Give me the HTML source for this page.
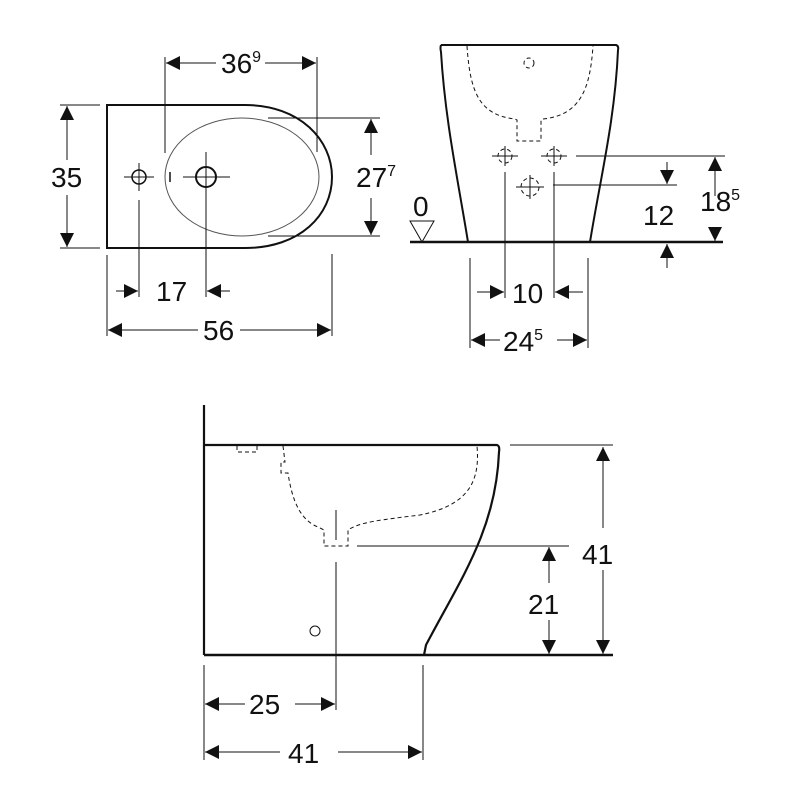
<!DOCTYPE html>
<html><head><meta charset="utf-8"><style>html,body{margin:0;padding:0;background:#fff}svg{display:block}text{font-family:"Liberation Sans",Arial,sans-serif;fill:#111}</style></head>
<body>
<svg width="800" height="800" viewBox="0 0 800 800" xmlns="http://www.w3.org/2000/svg">
<defs>
<marker id="a" viewBox="0 0 10 10" refX="10" refY="5" markerWidth="16" markerHeight="14" markerUnits="userSpaceOnUse" orient="auto"><path d="M0,0L10,5L0,10z" fill="#111"/></marker>
</defs>
<g stroke="#111" fill="none">
<path d="M107,105 L245,105 C300,105 332,140 332,177 C332,215 300,248 245,248 L107,248 Z" stroke-width="2"/>
<ellipse cx="242" cy="177" rx="77" ry="59" stroke-width="1" stroke="#555"/>
<path d="M170,172 v10" stroke-width="1.5"/>
<circle cx="139" cy="177" r="7" stroke-width="1.5"/>
<circle cx="206" cy="177" r="10" stroke-width="2"/>
<g stroke-width="1">
<path d="M124,177h30M139,163v28M183,177h47M206,152v50"/>
<path d="M165,57v96M317,57v95"/>
<path d="M216,63H166" marker-end="url(#a)"/><path d="M265,63H316" marker-end="url(#a)"/>
<path d="M60,105h40M60,248h40"/>
<path d="M67,160V106" marker-end="url(#a)"/><path d="M67,195V247" marker-end="url(#a)"/>
<path d="M268,118h112M268,236h112"/>
<path d="M371,155V119" marker-end="url(#a)"/><path d="M371,198V235" marker-end="url(#a)"/>
<path d="M139,200v97M206,200v97"/>
<path d="M116,291H138" marker-end="url(#a)"/><path d="M230,291H207" marker-end="url(#a)"/>
<path d="M107,255v81M332,254v82"/>
<path d="M198,330H108" marker-end="url(#a)"/><path d="M240,330H331" marker-end="url(#a)"/>
</g>
<path d="M441,45 L616,45 Q619,46 618,50 C615,120 600,180 590,242 M441,45 Q440,48 441,52 C445,120 458,180 468,242" stroke-width="2"/>
<path d="M410,242H723" stroke-width="2.5"/>
<g stroke-width="1" stroke-dasharray="4,3">
<path d="M467,46 C470,90 478,115 515,119 L517,120 V141 H541 V120 L543,119 C580,115 590,90 593,46"/>
<circle cx="529" cy="63" r="5"/>
<circle cx="505" cy="156" r="7"/><circle cx="554" cy="156" r="7"/><circle cx="530" cy="187" r="9"/>
</g>
<g stroke-width="1">
<path d="M492,156h26M505,146v20M541,156h26M554,146v20M516,187h28M530,175v24"/>
<path d="M422,242 L410,221 H434 Z"/>
<path d="M576,156h149M553,185h124"/>
<path d="M715,196V157" marker-end="url(#a)"/><path d="M715,228V241" marker-end="url(#a)"/>
<path d="M667,162V184" marker-end="url(#a)"/><path d="M667,268V244" marker-end="url(#a)"/>
<path d="M505,172v126M554,172v126"/>
<path d="M477,292H504" marker-end="url(#a)"/><path d="M583,292H555" marker-end="url(#a)"/>
<path d="M470,258v90M588,258v90"/>
<path d="M500,340H471" marker-end="url(#a)"/><path d="M557,340H587" marker-end="url(#a)"/>
</g>
<path d="M204,405V655M204,445H497 Q500,446 499,452 C496,530 460,580 426,645 L424,655" stroke-width="2.2"/>
<path d="M204,655H613" stroke-width="2.5"/>
<g stroke-width="1" stroke-dasharray="4,3">
<path d="M237,446v6h20v-6"/>
<path d="M283,446 L285,462 H281 V473 H288 C292,500 300,520 318,527 L324,530 V546 H348 V530 C360,522 380,520 420,515 C470,505 480,480 477,446"/>
</g>
<circle cx="315" cy="631" r="5" stroke-width="1"/>
<g stroke-width="1">
<path d="M336,510v30M336,562v148"/>
<path d="M357,546h212M510,445h103"/>
<path d="M603,528V447" marker-end="url(#a)"/><path d="M603,570V654" marker-end="url(#a)"/>
<path d="M549,583V547" marker-end="url(#a)"/><path d="M549,620V654" marker-end="url(#a)"/>
<path d="M204,665v95M423,665v95"/>
<path d="M245,704H205" marker-end="url(#a)"/><path d="M295,704H335" marker-end="url(#a)"/>
<path d="M280,752H205" marker-end="url(#a)"/><path d="M338,752H422" marker-end="url(#a)"/>
</g>
</g>
<g font-size="28">
<text x="221" y="73">36<tspan font-size="16" dy="-11">9</tspan></text>
<text x="51" y="187">35</text>
<text x="356" y="187">27<tspan font-size="16" dy="-11">7</tspan></text>
<text x="156" y="301">17</text>
<text x="203" y="340">56</text>
<text x="413" y="216">0</text>
<text x="643" y="225">12</text>
<text x="700" y="211">18<tspan font-size="16" dy="-11">5</tspan></text>
<text x="512" y="303">10</text>
<text x="503" y="351">24<tspan font-size="16" dy="-11">5</tspan></text>
<text x="582" y="564">41</text>
<text x="528" y="614">21</text>
<text x="249" y="714">25</text>
<text x="288" y="763">41</text>
</g>
</svg>
</body></html>
